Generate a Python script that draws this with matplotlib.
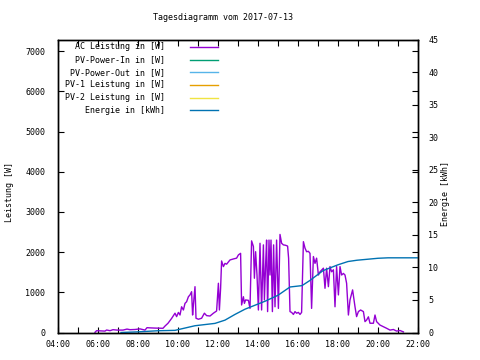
import matplotlib
matplotlib.use("Agg")
import matplotlib.pyplot as plt
from matplotlib.lines import Line2D

# ---- data ----
ac_hours = [5.85, 5.93, 6.10, 6.35, 6.43, 6.60, 6.75, 6.95, 7.25, 7.45, 7.60, 7.85, 8.10, 8.35,
            8.45, 8.60, 8.85, 9.25, 9.35, 9.50, 9.68, 9.85, 9.93, 10.02, 10.10, 10.18, 10.27,
            10.35, 10.43, 10.52, 10.60, 10.68, 10.73, 10.77, 10.85, 10.90, 11.02, 11.18, 11.32,
            11.43, 11.60, 11.77, 11.93, 12.02, 12.07, 12.13, 12.18, 12.27, 12.35, 12.43, 12.60,
            12.77, 12.93, 13.02, 13.13, 13.18, 13.27, 13.32, 13.38, 13.52, 13.60, 13.68, 13.77,
            13.82, 13.88, 13.95, 14.02, 14.10, 14.18, 14.27, 14.32, 14.38, 14.43, 14.48, 14.55,
            14.60, 14.65, 14.72, 14.78, 14.85, 14.93, 15.02, 15.10, 15.18, 15.27, 15.38, 15.48,
            15.53, 15.60, 15.68, 15.77, 15.85, 15.93, 16.02, 16.10, 16.18, 16.27, 16.35, 16.43,
            16.52, 16.60, 16.68, 16.77, 16.85, 16.93, 17.02, 17.10, 17.27, 17.35, 17.43, 17.52,
            17.60, 17.68, 17.77, 17.85, 17.93, 18.02, 18.10, 18.18, 18.27, 18.35, 18.43, 18.52,
            18.60, 18.73, 18.85, 18.93, 19.02, 19.13, 19.27, 19.35, 19.43, 19.52, 19.60, 19.77,
            19.85, 19.93, 20.10, 20.27, 20.43, 20.60, 20.77, 20.93, 21.10, 21.27]
ac_watts = [5, 45, 40, 35, 62, 45, 70, 60, 60, 85, 70, 75, 90, 60,
            120, 115, 110, 105, 160, 230, 350, 480, 395, 500, 435, 640, 560,
            725, 765, 890, 935, 1015, 435, 685, 1140, 355, 330, 355, 480,
            420, 410, 480, 535, 1225, 560, 1100, 1780, 1640, 1720, 1700, 1805,
            1830, 1850, 1930, 1970, 685, 890, 725, 810, 800, 600, 2280, 2140,
            1350, 2010, 1430, 560, 2220, 560, 2180, 810, 1680, 2300, 520, 2300,
            1430, 2300, 520, 2180, 640, 2300, 600, 2440, 2220, 2180, 2170, 2150,
            1850, 520, 500, 450, 520, 480, 500, 450, 500, 2260, 2100, 2010,
            2020, 1970, 600, 1890, 1720, 1850, 1430, 1510, 1600, 1100, 1600, 1140,
            1640, 1510, 1560, 640, 1640, 935, 1640, 1430, 1470, 1430, 1225, 435,
            810, 1060, 640, 395, 520, 560, 520, 270, 310, 390, 230, 230,
            435, 270, 185, 145, 105, 60, 75, 35, 50, 15]

energy_hours = [7.15, 8.0, 9.0, 9.85, 10.85, 11.85, 12.35, 12.85, 13.35, 14.35, 15.0, 15.6,
                16.2, 16.6, 17.25, 18.0, 18.5, 18.95, 20.0, 20.5, 22.0]
energy_kwh = [0.0, 0.1, 0.27, 0.33, 1.04, 1.4, 1.9, 2.78, 3.58, 4.8, 5.72, 6.99,
              7.2, 8.0, 9.5, 10.4, 10.9, 11.1, 11.4, 11.47, 11.47]

legend_labels = ["AC Leistung in [W]", "PV-Power-In in [W]", "PV-Power-Out in [W]",
                 "PV-1 Leistung in [W]", "PV-2 Leistung in [W]", "Energie in [kWh]"]
legend_colors = ["#9400d3", "#009e73", "#56b4e9", "#e69f00", "#f0e442", "#0072b2"]

hour_ticks = list(range(4, 23))
power_ticks = list(range(0, 8000, 1000))
energy_ticks = list(range(0, 50, 5))

title = "Tagesdiagramm vom 2017-07-13"

# ---- figure ----
W, H = 480, 360
plt.rcParams['font.family'] = ['DejaVu Sans Mono']
fs = 6
fig = plt.figure(figsize=(4.8, 3.6), dpi=100)
ax = fig.add_axes([58 / W, (H - 332.5) / H, 360 / W, 293 / H])
ax2 = ax.twinx()

ax.plot(ac_hours, ac_watts, color=legend_colors[0], lw=1)
ax2.plot(energy_hours, energy_kwh, color=legend_colors[5], lw=1)

ax.set_xlim(4, 22)
ax.set_ylim(0, 7290)
ax2.set_ylim(0, 45)

ax.set_xticks(hour_ticks)
ax.set_xticklabels(["%02d:00" % h if h % 2 == 0 else "" for h in hour_ticks], fontsize=fs)
ax.set_yticks(power_ticks)
ax.set_yticklabels([str(v) for v in power_ticks], fontsize=fs)
ax2.set_yticks(energy_ticks)
ax2.set_yticklabels([str(v) for v in energy_ticks], fontsize=fs)

ax.tick_params(axis='x', direction='in', length=4, width=0.8, top=True, pad=5.5)
ax.tick_params(axis='y', direction='in', length=4, width=0.8, right=True, pad=9)
ax2.tick_params(axis='y', direction='in', length=4, width=0.8, pad=7.5)
for a in (ax, ax2):
    for s in a.spines.values():
        s.set_linewidth(1)
        s.set_color('black')

fig.text(223 / W, 1 - 18 / H, title, ha='center', va='center', fontsize=fs)
fig.text(9.7 / W, 1 - 192 / H, "Leistung [W]", rotation=90, ha='center', va='center', fontsize=fs)
fig.text(446 / W, 1 - 194 / H, "Energie [kWh]", rotation=90, ha='center', va='center', fontsize=fs)

rows = [46.7, 59.7, 72.3, 84.7, 97.7, 110.3]
for lab, col, yy in zip(legend_labels, legend_colors, rows):
    fig.text(165 / W, 1 - yy / H, lab, ha='right', va='center', fontsize=fs)
    fig.add_artist(Line2D([190 / W, 218 / W], [1 - yy / H, 1 - yy / H], color=col, lw=1,
                          transform=fig.transFigure))

fig.savefig("out.png", dpi=100)
